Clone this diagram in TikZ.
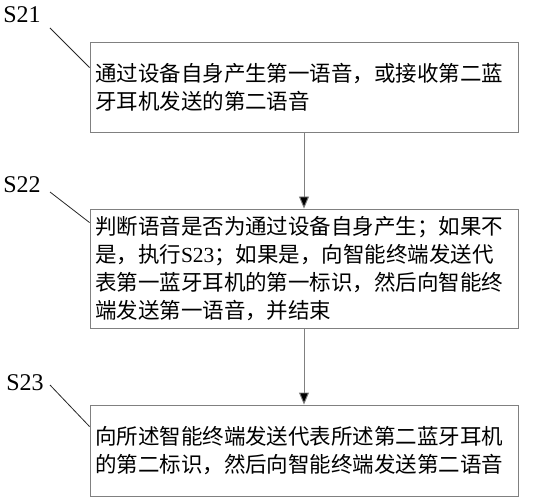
\documentclass[tikz,border=0pt]{standalone}
\usepackage{fontspec}
\setmainfont{Liberation Serif}
\newfontfamily\cjk{Noto Sans CJK SC}
\usetikzlibrary{arrows.meta,calc}
\definecolor{boxgray}{HTML}{808080}
\begin{document}
\begin{tikzpicture}[x=1pt,y=-1pt,
  stepbox/.style={draw=boxgray, line width=0.9pt, inner sep=5pt, text width=418pt, align=left,
    minimum width=428pt, font=\cjk\fontsize{21.5}{28}\selectfont},
  steplabel/.style={inner sep=0pt, font=\fontsize{24}{24}\selectfont},
  leader/.style={draw=black!85, line width=0.8pt},
  flow/.style={draw=boxgray, line width=0.9pt, -{Triangle[length=12pt,width=10pt,fill=black]}}]
\useasboundingbox (0,0) rectangle (536,500);
\node[stepbox, minimum height=90pt] (b1) at (304,87) {通过设备自身产生第一语音，或接收第二蓝\\牙耳机发送的第二语音};
\node[stepbox, minimum height=119pt] (b2) at (304,268.5) {判断语音是否为通过设备自身产生；如果不\\是，执行{\rmfamily S23}；如果是，向智能终端发送代\\表第一蓝牙耳机的第一标识，然后向智能终\\端发送第一语音，并结束};
\node[stepbox, minimum height=91pt] (b3) at (304,450.5) {向所述智能终端发送代表所述第二蓝牙耳机\\的第二标识，然后向智能终端发送第二语音};
\node[steplabel] (s21) at (22,15) {S21};
\node[steplabel] (s22) at (22,185) {S22};
\node[steplabel] (s23) at (25,383) {S23};
\coordinate (l1) at (50,28);
\coordinate (l2) at (50,192);
\coordinate (l3) at (50,385);
\draw[leader] (l1) -- ($(b1.north west)+(0,26)$);
\draw[leader] (l2) -- ($(b2.north west)+(0,14)$);
\draw[leader] (l3) -- ($(b3.north west)+(0,22)$);
\draw[flow] (b1.south) -- (b2.north);
\draw[flow] (b2.south) -- (b3.north);
\end{tikzpicture}
\end{document}
